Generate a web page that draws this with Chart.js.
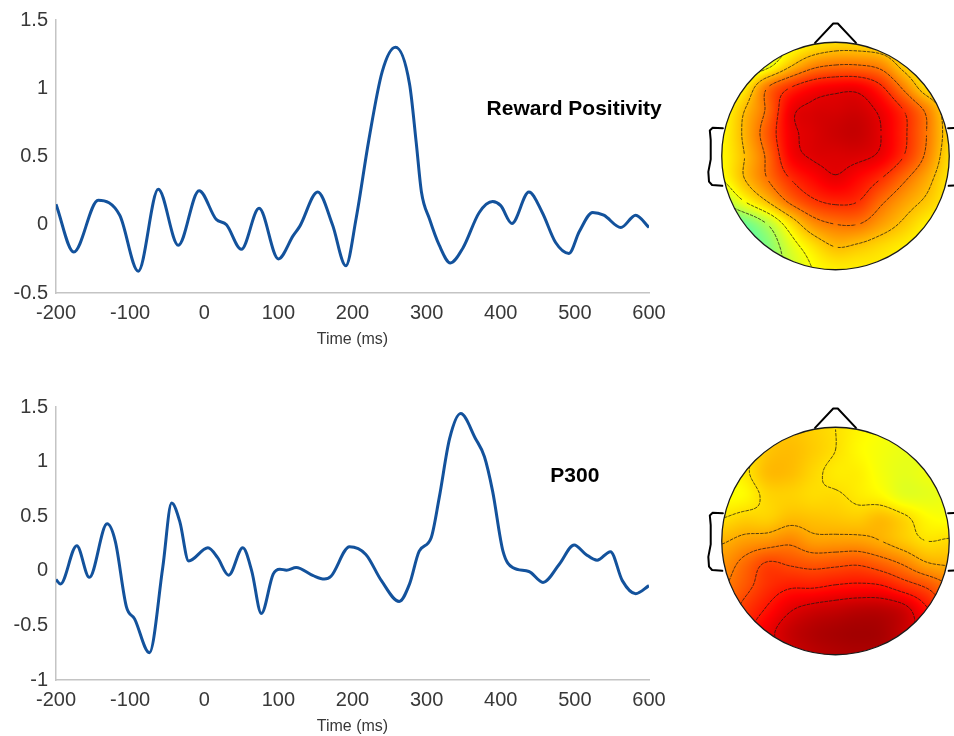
<!DOCTYPE html>
<html>
<head>
<meta charset="utf-8">
<script src="https://cdn.jsdelivr.net/npm/chart.js@4.4.1/dist/chart.umd.min.js"></script>
<style>
  html, body { margin: 0; padding: 0; background: #ffffff; }
  body { width: 954px; height: 736px; position: relative; overflow: hidden; }
  canvas { position: absolute; }
  #rpWave { left: 0; top: 0; }
  #p3Wave { left: 0; top: 387px; }
  #rpTopo { left: 700px; top: 0; }
  #p3Topo { left: 700px; top: 385px; }
</style>
</head>
<body>
<canvas id="rpWave" width="680" height="349"></canvas>
<canvas id="p3Wave" width="680" height="349"></canvas>
<canvas id="rpTopo" width="254" height="300"></canvas>
<canvas id="p3Topo" width="254" height="300"></canvas>
<script>
// ---- Waveforms (time in ms, amplitude in µV) ----
const RP_TIME = [-200, -176, -143, -114, -89, -62, -35, -7, 16, 30, 50, 74, 100, 120, 129, 153, 173, 191, 205, 222, 240, 258, 277, 286, 293, 304, 317, 332, 349, 371, 389, 400, 415, 438, 456, 474, 492, 506, 524, 539, 562, 582, 600];
const RP_AMP  = [0.15, -0.20, 0.18, 0.07, -0.34, 0.26, -0.15, 0.25, 0.04, 0.0, -0.18, 0.12, -0.25, -0.08, -0.01, 0.24, 0.0, -0.30, 0.05, 0.62, 1.12, 1.30, 1.03, 0.60, 0.24, 0.04, -0.15, -0.28, -0.17, 0.09, 0.17, 0.14, 0.01, 0.24, 0.09, -0.13, -0.21, -0.05, 0.09, 0.07, -0.02, 0.07, -0.02];

const P3_TIME = [-200, -194, -172, -155, -131, -120, -105, -94, -74, -56, -44, -33, -21, 5, 18, 33, 52, 64, 77, 93, 102, 111, 124, 147, 162, 171, 196, 218, 239, 263, 277, 290, 306, 317, 331, 346, 366, 378, 389, 403, 416, 438, 457, 479, 499, 515, 530, 548, 564, 582, 600];
const P3_AMP  = [-0.08, -0.12, 0.23, -0.06, 0.43, 0.27, -0.33, -0.44, -0.75, 0.03, 0.62, 0.45, 0.09, 0.21, 0.12, -0.04, 0.21, 0.0, -0.39, -0.03, 0.015, 0.006, 0.03, -0.045, -0.076, -0.05, 0.22, 0.15, -0.09, -0.28, -0.12, 0.18, 0.30, 0.67, 1.21, 1.44, 1.21, 1.045, 0.73, 0.18, 0.03, -0.006, -0.106, 0.06, 0.236, 0.15, 0.097, 0.175, -0.09, -0.21, -0.136];

const TIME_TICKS = [-200, -100, 0, 100, 200, 300, 400, 500, 600];
const RP_AMP_TICKS = [-0.5, 0, 0.5, 1, 1.5];
const P3_AMP_TICKS = [-1, -0.5, 0, 0.5, 1, 1.5];

// ---- Scalp maps: colour-scale values on an 11x11 grid, x from -1 (left) to 1, rows from y = 1 (nose) to -1 ----
const RP_TOPO = [
  [0.52, 0.54, 0.57, 0.61, 0.64, 0.66, 0.66, 0.65, 0.63, 0.62, 0.62],
  [0.54, 0.56, 0.60, 0.68, 0.74, 0.76, 0.76, 0.74, 0.67, 0.63, 0.62],
  [0.58, 0.64, 0.76, 0.83, 0.87, 0.885, 0.885, 0.84, 0.75, 0.66, 0.63],
  [0.62, 0.69, 0.77, 0.885, 0.91, 0.915, 0.92, 0.89, 0.83, 0.75, 0.66],
  [0.63, 0.70, 0.79, 0.885, 0.91, 0.925, 0.93, 0.90, 0.84, 0.76, 0.67],
  [0.63, 0.69, 0.77, 0.875, 0.905, 0.91, 0.91, 0.89, 0.83, 0.75, 0.66],
  [0.62, 0.69, 0.76, 0.83, 0.87, 0.895, 0.87, 0.83, 0.77, 0.71, 0.65],
  [0.55, 0.62, 0.69, 0.77, 0.82, 0.84, 0.83, 0.77, 0.72, 0.68, 0.64],
  [0.45, 0.48, 0.55, 0.65, 0.73, 0.76, 0.76, 0.72, 0.68, 0.64, 0.62],
  [0.42, 0.45, 0.50, 0.59, 0.65, 0.69, 0.68, 0.66, 0.64, 0.62, 0.61],
  [0.42, 0.45, 0.50, 0.57, 0.62, 0.64, 0.64, 0.64, 0.63, 0.62, 0.60]
];
const RP_LEVELS = [0.55, 0.62, 0.69, 0.76, 0.83, 0.90];

const P3_TOPO = [
  [0.64, 0.65, 0.67, 0.68, 0.67, 0.655, 0.635, 0.62, 0.61, 0.61, 0.61],
  [0.62, 0.64, 0.68, 0.69, 0.675, 0.655, 0.63, 0.615, 0.605, 0.60, 0.60],
  [0.61, 0.645, 0.69, 0.69, 0.665, 0.645, 0.64, 0.615, 0.60, 0.61, 0.62],
  [0.62, 0.63, 0.665, 0.67, 0.66, 0.66, 0.645, 0.63, 0.60, 0.60, 0.61],
  [0.655, 0.67, 0.67, 0.69, 0.685, 0.68, 0.675, 0.69, 0.665, 0.63, 0.62],
  [0.70, 0.72, 0.73, 0.745, 0.72, 0.72, 0.72, 0.705, 0.68, 0.655, 0.66],
  [0.73, 0.77, 0.81, 0.80, 0.79, 0.795, 0.80, 0.78, 0.75, 0.71, 0.70],
  [0.75, 0.79, 0.83, 0.85, 0.85, 0.86, 0.865, 0.86, 0.83, 0.80, 0.76],
  [0.77, 0.82, 0.86, 0.90, 0.92, 0.93, 0.94, 0.94, 0.92, 0.86, 0.80],
  [0.80, 0.84, 0.89, 0.93, 0.95, 0.96, 0.965, 0.96, 0.93, 0.88, 0.84],
  [0.80, 0.84, 0.88, 0.92, 0.94, 0.95, 0.955, 0.95, 0.92, 0.88, 0.84]
];
const P3_LEVELS = [0.655, 0.705, 0.755, 0.805, 0.855, 0.905];

// ---- Styling ----
const FONT = "Arial, 'Liberation Sans', Helvetica, sans-serif";
const TEXT_COLOR = '#383838';
const AXIS_COLOR = '#c4c4c4';
const WAVE_COLOR = '#13529c';

// Bold component name written inside the waveform panel, placed in data units
const waveLabelPlugin = {
  id: 'waveLabel',
  afterDatasetsDraw(chart, args, opts) {
    const { ctx, scales: { x, y } } = chart;
    ctx.save();
    ctx.font = 'bold 21px ' + FONT;
    ctx.fillStyle = '#000000';
    ctx.textAlign = 'center';
    ctx.textBaseline = 'middle';
    ctx.fillText(opts.text, x.getPixelForValue(opts.x), y.getPixelForValue(opts.y));
    ctx.restore();
  }
};

function fixedTicks(values) {
  return scale => { scale.ticks = values.map(v => ({ value: v })); };
}

function waveChart(id, times, amps, yTicks, label) {
  const points = times.map((t, i) => ({ x: t, y: amps[i] }));
  return new Chart(document.getElementById(id), {
    type: 'line',
    data: {
      datasets: [{
        data: points,
        borderColor: WAVE_COLOR,
        borderWidth: 3,
        pointRadius: 0,
        fill: false,
        cubicInterpolationMode: 'monotone'
      }]
    },
    options: {
      responsive: false,
      animation: false,
      events: [],
      layout: { padding: { top: 18, right: 31, bottom: 0, left: 0 } },
      plugins: {
        legend: { display: false },
        tooltip: { enabled: false },
        waveLabel: label
      },
      scales: {
        x: {
          type: 'linear',
          min: TIME_TICKS[0],
          max: TIME_TICKS[TIME_TICKS.length - 1],
          afterBuildTicks: fixedTicks(TIME_TICKS),
          afterFit: s => { s.height = 56; },
          grid: { display: false, drawTicks: false },
          border: { display: true, color: AXIS_COLOR, width: 1.5 },
          ticks: { font: { size: 20, family: FONT }, color: TEXT_COLOR, padding: 8, maxRotation: 0, autoSkip: false, callback: v => String(v) },
          title: { display: true, text: 'Time (ms)', font: { size: 16, family: FONT }, color: TEXT_COLOR, padding: { top: 0, bottom: 0 } }
        },
        y: {
          type: 'linear',
          min: yTicks[0],
          max: yTicks[yTicks.length - 1],
          afterBuildTicks: fixedTicks(yTicks),
          afterFit: s => { s.width = 56; },
          grid: { display: false, drawTicks: false },
          border: { display: true, color: AXIS_COLOR, width: 1.5 },
          ticks: { font: { size: 20, family: FONT }, color: TEXT_COLOR, padding: 8, callback: v => String(v) }
        }
      }
    },
    plugins: [waveLabelPlugin]
  });
}

waveChart('rpWave', RP_TIME, RP_AMP, RP_AMP_TICKS, { text: 'Reward Positivity', x: 499, y: 0.85 });
waveChart('p3Wave', P3_TIME, P3_AMP, P3_AMP_TICKS, { text: 'P300', x: 500, y: 0.87 });

// ---- Scalp map drawing ----
function jet(t) {
  const c = v => Math.max(0, Math.min(1, v));
  return [
    Math.round(255 * c(1.5 - Math.abs(4 * t - 3))),
    Math.round(255 * c(1.5 - Math.abs(4 * t - 2))),
    Math.round(255 * c(1.5 - Math.abs(4 * t - 1)))
  ];
}

// Smooth (Catmull-Rom) reading of the grid at head coordinates (x, y)
function sampleGrid(grid, x, y) {
  const n = grid.length, m = grid[0].length;
  const gx = (x + 1) / 2 * (m - 1);
  const gy = (1 - y) / 2 * (n - 1);
  const ix = Math.floor(gx), iy = Math.floor(gy);
  const fx = gx - ix, fy = gy - iy;
  const at = (r, col) => grid[Math.min(n - 1, Math.max(0, r))][Math.min(m - 1, Math.max(0, col))];
  const cr = (p0, p1, p2, p3, t) => p1 + 0.5 * t * (p2 - p0 + t * (2 * p0 - 5 * p1 + 4 * p2 - p3 + t * (3 * (p1 - p2) + p3 - p0)));
  const rows = [];
  for (let k = -1; k <= 2; k++) {
    rows.push(cr(at(iy + k, ix - 1), at(iy + k, ix), at(iy + k, ix + 1), at(iy + k, ix + 2), fx));
  }
  return cr(rows[0], rows[1], rows[2], rows[3], fy);
}

// Marching squares: iso-line pieces of level through the sampled field F
function contourSegments(F, n, h, level) {
  const segs = [];
  for (let j = 0; j < n - 1; j++) {
    for (let i = 0; i < n - 1; i++) {
      const x0 = -1 + i * h, x1 = x0 + h, y0 = 1 - j * h, y1 = y0 - h;
      const a = F[j][i], b = F[j][i + 1], c = F[j + 1][i + 1], d = F[j + 1][i];
      const pts = [];
      const edge = (va, vb, xa, ya, xb, yb) => {
        if ((va - level) * (vb - level) < 0) {
          const t = (level - va) / (vb - va);
          pts.push([xa + t * (xb - xa), ya + t * (yb - ya)]);
        }
      };
      edge(a, b, x0, y0, x1, y0);
      edge(b, c, x1, y0, x1, y1);
      edge(c, d, x1, y1, x0, y1);
      edge(d, a, x0, y1, x0, y0);
      if (pts.length === 2) segs.push(pts);
      else if (pts.length === 4) { segs.push([pts[0], pts[1]]); segs.push([pts[2], pts[3]]); }
    }
  }
  return segs;
}

// Join the pieces into continuous polylines so a dash pattern runs along them
function chainSegments(segs) {
  const key = p => p[0].toFixed(5) + ',' + p[1].toFixed(5);
  const ends = new Map();
  segs.forEach((s, idx) => {
    [0, 1].forEach(e => {
      const k = key(s[e]);
      if (!ends.has(k)) ends.set(k, []);
      ends.get(k).push([idx, e]);
    });
  });
  const used = new Array(segs.length).fill(false);
  const lines = [];
  const extend = line => {
    for (;;) {
      const cands = ends.get(key(line[line.length - 1])) || [];
      let next = null;
      for (const [idx, e] of cands) {
        if (!used[idx]) { next = [idx, e]; break; }
      }
      if (!next) break;
      used[next[0]] = true;
      line.push(segs[next[0]][1 - next[1]]);
    }
  };
  for (let i = 0; i < segs.length; i++) {
    if (used[i]) continue;
    used[i] = true;
    const line = [segs[i][0], segs[i][1]];
    extend(line);
    line.reverse();
    extend(line);
    lines.push(line);
  }
  return lines;
}

// Head outline in head units (radius 1)
const NOSE = [[-0.18, 0.995], [-0.02, 1.165], [0.02, 1.165], [0.18, 0.995]];
const EAR = [[-0.99, 0.245], [-1.08, 0.248], [-1.105, 0.225], [-1.097, 0.14], [-1.097, -0.03], [-1.118, -0.14], [-1.112, -0.225], [-1.085, -0.255], [-0.995, -0.262]];

const scalpPlugin = {
  id: 'scalpMap',
  beforeDatasetsDraw(chart, args, opts) {
    const { ctx, scales: { x: xs, y: ys } } = chart;
    const grid = opts.grid;
    const px = v => xs.getPixelForValue(v);
    const py = v => ys.getPixelForValue(v);
    const cx = px(0), cy = py(0);
    const rx = px(1) - cx, ry = cy - py(1);

    // colour field
    const left = Math.floor(cx - rx - 2), top = Math.floor(cy - ry - 2);
    const w = Math.ceil(2 * rx + 4), hgt = Math.ceil(2 * ry + 4);
    const off = document.createElement('canvas');
    off.width = w; off.height = hgt;
    const octx = off.getContext('2d');
    const img = octx.createImageData(w, hgt);
    for (let j = 0; j < hgt; j++) {
      const yv = ys.getValueForPixel(top + j + 0.5);
      for (let i = 0; i < w; i++) {
        const xv = xs.getValueForPixel(left + i + 0.5);
        if (xv * xv + yv * yv > 1.06) continue;
        const col = jet(sampleGrid(grid, xv, yv));
        const k = (j * w + i) * 4;
        img.data[k] = col[0]; img.data[k + 1] = col[1]; img.data[k + 2] = col[2]; img.data[k + 3] = 255;
      }
    }
    octx.putImageData(img, 0, 0);

    ctx.save();
    ctx.beginPath();
    ctx.ellipse(cx, cy, rx, ry, 0, 0, Math.PI * 2);
    ctx.clip();
    ctx.drawImage(off, left, top);

    // contour lines
    const step = 0.02, n = Math.round(2 / step) + 1;
    const F = [];
    for (let j = 0; j < n; j++) {
      const row = [];
      for (let i = 0; i < n; i++) row.push(sampleGrid(grid, -1 + i * step, 1 - j * step));
      F.push(row);
    }
    ctx.strokeStyle = 'rgba(30, 25, 20, 0.85)';
    ctx.lineWidth = 0.9;
    ctx.setLineDash([3.5, 1]);
    opts.levels.forEach(level => {
      chainSegments(contourSegments(F, n, step, level)).forEach(line => {
        ctx.beginPath();
        line.forEach((p, i) => (i ? ctx.lineTo(px(p[0]), py(p[1])) : ctx.moveTo(px(p[0]), py(p[1]))));
        ctx.stroke();
      });
    });
    ctx.restore();

    // head, nose and ears
    ctx.save();
    ctx.strokeStyle = '#1a1a1a';
    ctx.lineWidth = 1.3;
    ctx.beginPath();
    ctx.ellipse(cx, cy, rx, ry, 0, 0, Math.PI * 2);
    ctx.stroke();
    ctx.strokeStyle = '#000000';
    ctx.lineWidth = 2;
    ctx.lineJoin = 'round';
    ctx.lineCap = 'round';
    const poly = pts => {
      ctx.beginPath();
      pts.forEach((p, i) => (i ? ctx.lineTo(px(p[0]), py(p[1])) : ctx.moveTo(px(p[0]), py(p[1]))));
      ctx.stroke();
    };
    poly(NOSE);
    poly(EAR);
    poly(EAR.map(p => [-p[0], p[1]]));
    ctx.restore();
  }
};

// Map canvases: head centre sits 135.5 px from the left and 156 px from the top, radius 113.75 px
const HEAD_R = 113.75, HEAD_CX = 135.5, HEAD_CY = 156, MAP_W = 254, MAP_H = 300;

function scalpChart(id, grid, levels) {
  return new Chart(document.getElementById(id), {
    type: 'scatter',
    data: { datasets: [] },
    options: {
      responsive: false,
      animation: false,
      events: [],
      layout: { padding: 0 },
      plugins: { legend: { display: false }, tooltip: { enabled: false }, scalpMap: { grid, levels } },
      scales: {
        x: { type: 'linear', display: false, min: -HEAD_CX / HEAD_R, max: (MAP_W - HEAD_CX) / HEAD_R },
        y: { type: 'linear', display: false, min: -(MAP_H - HEAD_CY) / HEAD_R, max: HEAD_CY / HEAD_R }
      }
    },
    plugins: [scalpPlugin]
  });
}

scalpChart('rpTopo', RP_TOPO, RP_LEVELS);
scalpChart('p3Topo', P3_TOPO, P3_LEVELS);
</script>
</body>
</html>
